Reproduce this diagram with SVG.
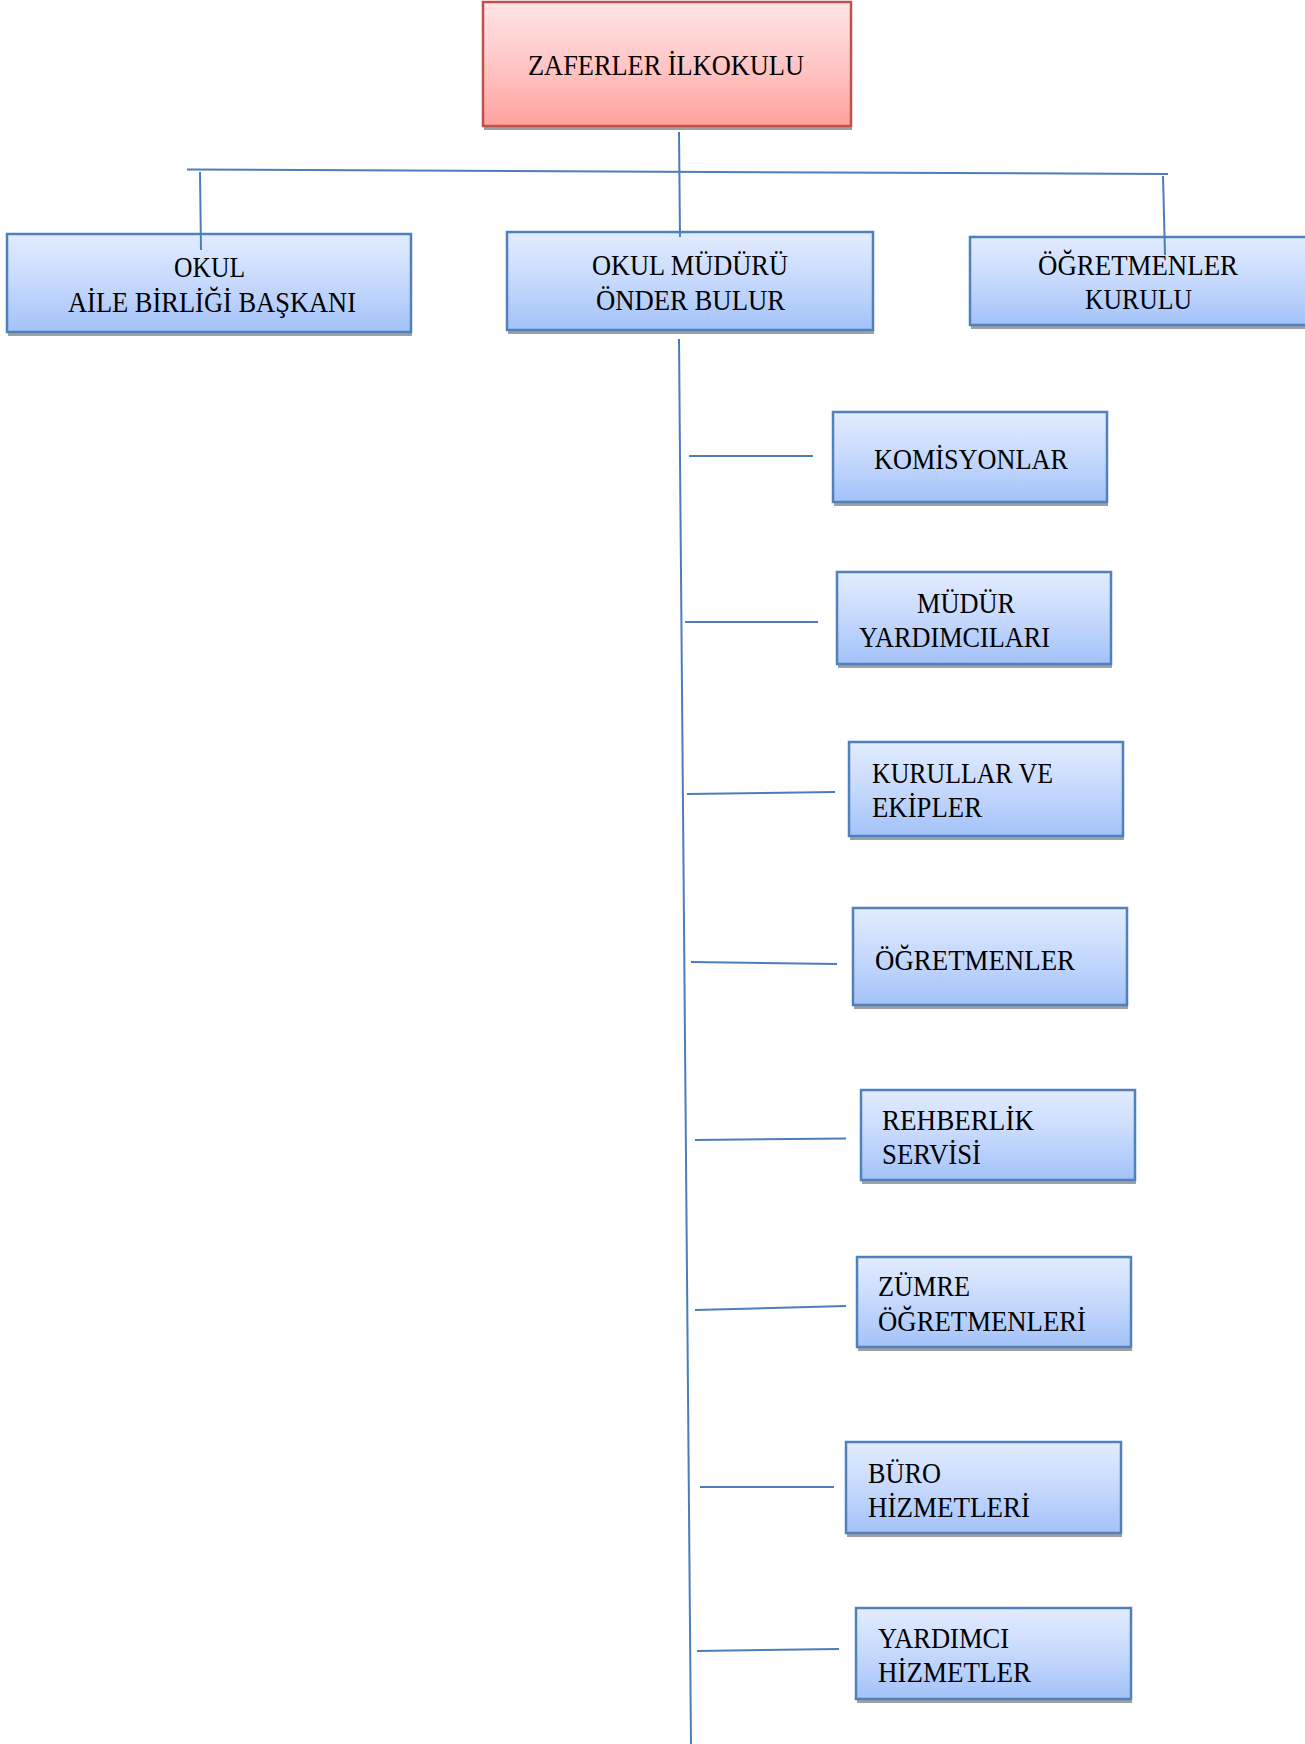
<svg xmlns="http://www.w3.org/2000/svg" width="1305" height="1744" viewBox="0 0 1305 1744">
<defs>
<linearGradient id="gBlue" x1="0" y1="0" x2="0" y2="1">
<stop offset="0" stop-color="#E3ECFF"/>
<stop offset="0.5" stop-color="#C6D9FD"/>
<stop offset="1" stop-color="#A3C2F9"/>
</linearGradient>
<linearGradient id="gRed" x1="0" y1="0" x2="0" y2="1">
<stop offset="0" stop-color="#FFE4E5"/>
<stop offset="0.5" stop-color="#FFC7C7"/>
<stop offset="1" stop-color="#FFA19E"/>
</linearGradient>
<style>
.shadow{fill:#A0A0A0;}
.box{fill:url(#gBlue);stroke:#4F81BD;stroke-width:2.5;}
.rbox{fill:url(#gRed);stroke:#C0504D;stroke-width:2.5;}
.lbl{font-family:"Liberation Serif","Times New Roman",serif;font-size:30px;fill:#000;}
.conn line{stroke:#4A7EBB;stroke-width:2;}
</style>
</defs>
<rect width="1305" height="1744" fill="#FFFFFF"/>

<g id="node-zaferler">
<rect class="shadow" x="484" y="6" width="368" height="124"/>
<rect class="rbox" x="483" y="2" width="368" height="124"/>
<text class="lbl" x="528" y="75" textLength="276" lengthAdjust="spacingAndGlyphs">ZAFERLER İLKOKULU</text>
</g>

<g id="node-aile">
<rect class="shadow" x="8" y="238" width="404" height="98"/>
<rect class="box" x="7" y="234" width="404" height="98"/>
<text class="lbl" x="174" y="277" textLength="71" lengthAdjust="spacingAndGlyphs">OKUL</text>
<text class="lbl" x="68" y="312" textLength="288" lengthAdjust="spacingAndGlyphs">AİLE BİRLİĞİ BAŞKANI</text>
</g>

<g id="node-mudur">
<rect class="shadow" x="508" y="236" width="366" height="98"/>
<rect class="box" x="507" y="232" width="366" height="98"/>
<text class="lbl" x="592" y="275" textLength="196" lengthAdjust="spacingAndGlyphs">OKUL MÜDÜRÜ</text>
<text class="lbl" x="596" y="310" textLength="189" lengthAdjust="spacingAndGlyphs">ÖNDER BULUR</text>
</g>

<g id="node-ogretmenler-kurulu">
<rect class="shadow" x="971" y="241" width="340" height="88"/>
<rect class="box" x="970" y="237" width="340" height="88"/>
<text class="lbl" x="1038" y="275" textLength="200" lengthAdjust="spacingAndGlyphs">ÖĞRETMENLER</text>
<text class="lbl" x="1085" y="309" textLength="107" lengthAdjust="spacingAndGlyphs">KURULU</text>
</g>

<g id="node-komisyonlar">
<rect class="shadow" x="834" y="416" width="274" height="90"/>
<rect class="box" x="833" y="412" width="274" height="90"/>
<text class="lbl" x="874" y="469" textLength="194" lengthAdjust="spacingAndGlyphs">KOMİSYONLAR</text>
</g>

<g id="node-mudur-yardimcilari">
<rect class="shadow" x="838" y="576" width="274" height="92"/>
<rect class="box" x="837" y="572" width="274" height="92"/>
<text class="lbl" x="917" y="613" textLength="98" lengthAdjust="spacingAndGlyphs">MÜDÜR</text>
<text class="lbl" x="859" y="647" textLength="191" lengthAdjust="spacingAndGlyphs">YARDIMCILARI</text>
</g>

<g id="node-kurullar">
<rect class="shadow" x="850" y="746" width="274" height="94"/>
<rect class="box" x="849" y="742" width="274" height="94"/>
<text class="lbl" x="872" y="783" textLength="181" lengthAdjust="spacingAndGlyphs">KURULLAR VE</text>
<text class="lbl" x="872" y="817" textLength="110" lengthAdjust="spacingAndGlyphs">EKİPLER</text>
</g>

<g id="node-ogretmenler">
<rect class="shadow" x="854" y="912" width="274" height="97"/>
<rect class="box" x="853" y="908" width="274" height="97"/>
<text class="lbl" x="875" y="970" textLength="200" lengthAdjust="spacingAndGlyphs">ÖĞRETMENLER</text>
</g>

<g id="node-rehberlik">
<rect class="shadow" x="862" y="1094" width="274" height="90"/>
<rect class="box" x="861" y="1090" width="274" height="90"/>
<text class="lbl" x="882" y="1130" textLength="152" lengthAdjust="spacingAndGlyphs">REHBERLİK</text>
<text class="lbl" x="882" y="1164" textLength="99" lengthAdjust="spacingAndGlyphs">SERVİSİ</text>
</g>

<g id="node-zumre">
<rect class="shadow" x="858" y="1261" width="274" height="90"/>
<rect class="box" x="857" y="1257" width="274" height="90"/>
<text class="lbl" x="878" y="1296" textLength="92" lengthAdjust="spacingAndGlyphs">ZÜMRE</text>
<text class="lbl" x="878" y="1331" textLength="208" lengthAdjust="spacingAndGlyphs">ÖĞRETMENLERİ</text>
</g>

<g id="node-buro">
<rect class="shadow" x="847" y="1446" width="275" height="91"/>
<rect class="box" x="846" y="1442" width="275" height="91"/>
<text class="lbl" x="868" y="1483" textLength="73" lengthAdjust="spacingAndGlyphs">BÜRO</text>
<text class="lbl" x="868" y="1517" textLength="162" lengthAdjust="spacingAndGlyphs">HİZMETLERİ</text>
</g>

<g id="node-yardimci">
<rect class="shadow" x="857" y="1612" width="275" height="91"/>
<rect class="box" x="856" y="1608" width="275" height="91"/>
<text class="lbl" x="878" y="1648" textLength="131" lengthAdjust="spacingAndGlyphs">YARDIMCI</text>
<text class="lbl" x="878" y="1682" textLength="153" lengthAdjust="spacingAndGlyphs">HİZMETLER</text>
</g>

<g id="connectors" class="conn">
<line x1="187" y1="169.5" x2="1168" y2="174"/>
<line x1="679" y1="132" x2="680" y2="237"/>
<line x1="200" y1="172" x2="201" y2="250"/>
<line x1="1163" y1="176" x2="1165" y2="255"/>
<line x1="679" y1="339" x2="691" y2="1744"/>
<line x1="689" y1="456" x2="813" y2="456"/>
<line x1="685" y1="622" x2="818" y2="622"/>
<line x1="687" y1="794" x2="835" y2="792"/>
<line x1="691" y1="962" x2="837" y2="964"/>
<line x1="695" y1="1140" x2="846" y2="1138.5"/>
<line x1="695" y1="1310" x2="846" y2="1306"/>
<line x1="700" y1="1487" x2="834" y2="1487"/>
<line x1="697" y1="1651" x2="839" y2="1649"/>
</g>
</svg>
